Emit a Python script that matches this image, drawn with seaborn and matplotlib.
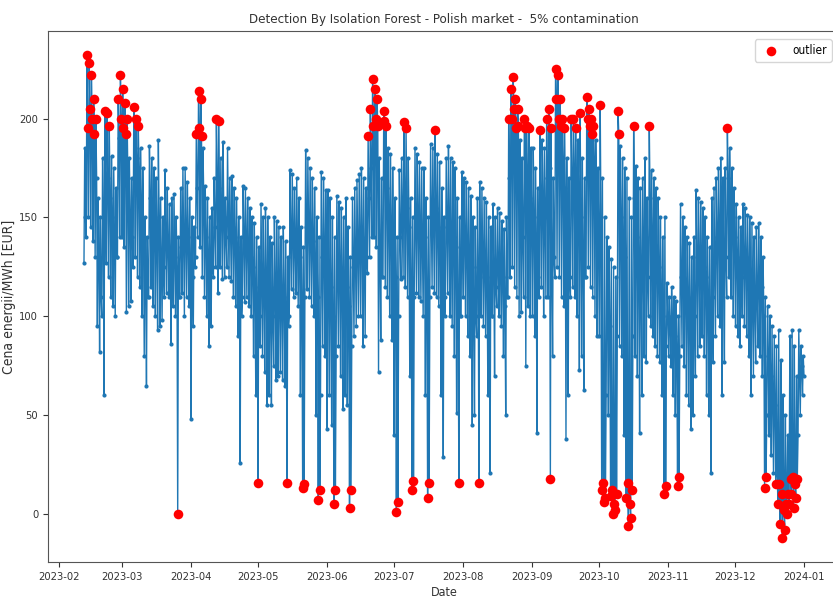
import numpy as np
import pandas as pd
import matplotlib
matplotlib.use("Agg")
import matplotlib.pyplot as plt
import seaborn as sns

# Daily readings, three per day: [low, high, mid] (EUR/MWh)
feb = [127,185,150, 140,232,195, 150,228,205, 145,222,200, 138,210,192, 130,200,170,
       95,160,130, 82,150,110, 100,180,150, 60,204,160, 127,203,170, 120,196,160,
       110,181,150, 105,175,140, 100,165,130, 130,210,190, 140,222,200]
mar = [140,215,195, 135,208,192, 102,200,170, 105,180,150, 108,170,140, 125,206,185,
       130,200,180, 120,196,175, 115,185,160, 100,175,145, 80,150,120, 65,140,110,
       110,186,160, 115,180,150, 105,175,145, 100,170,140, 93,189,150, 95,160,130,
       98,150,125, 110,174,140, 112,165,135, 110,157,130, 86,160,125, 105,162,130,
       100,150,125, 0,140,110, 110,165,135, 112,175,140, 100,175,140, 110,168,140,
       105,160,130]
apr = [48,150,120, 95,145,125, 130,192,165, 140,214,195, 135,210,191, 120,185,160,
       110,166,140, 100,160,130, 85,150,120, 95,155,125, 120,170,145, 125,200,170,
       112,199,165, 125,180,150, 119,188,150, 120,160,140, 125,185,150, 120,170,145,
       118,171,145, 110,165,140, 105,160,135, 90,150,120, 26,140,100, 110,166,140,
       107,165,138, 110,160,135, 105,155,130, 100,150,125, 80,147,115, 60,140,110]
may = [16,135,100, 85,157,120, 80,150,115, 72,155,120, 55,150,110, 60,140,105,
       55,137,100, 75,150,115, 68,148,112, 70,145,110, 72,140,108, 68,145,110,
       65,138,105, 16,130,95, 100,174,140, 114,172,140, 110,165,135, 112,170,138,
       105,160,130, 60,145,110, 13,135,15, 110,184,145, 114,180,145, 110,175,140,
       105,170,138, 100,165,130, 50,150,110, 7,140,12, 60,173,130, 85,170,135,
       80,164,130]
jun = [43,164,120, 60,160,115, 45,150,100, 5,140,12, 80,161,125, 85,158,125,
       70,155,120, 53,150,110, 60,160,115, 55,145,105, 3,130,12, 85,160,125,
       90,165,130, 95,169,135, 100,172,138, 100,175,140, 85,170,130, 90,165,130,
       122,191,160, 130,205,175, 140,220,196, 140,215,200, 135,210,196, 72,180,130,
       88,170,120, 120,204,199, 115,196,165, 110,185,150, 100,182,145, 88,175,135]
jul = [40,160,120, 1,140,6, 100,174,140, 119,180,150, 120,198,160, 115,195,155,
       110,180,145, 70,160,120, 12,150,17, 110,185,150, 112,182,150, 110,178,145,
       108,175,140, 100,175,140, 60,160,115, 8,150,16, 110,187,150, 115,185,150,
       112,194,155, 110,182,145, 105,178,140, 60,165,115, 29,150,100, 110,180,145,
       112,186,148, 100,180,140, 95,178,140, 80,175,135, 51,160,110, 16,150,100,
       100,173,135]
aug = [110,170,140, 100,168,135, 90,165,130, 80,161,125, 45,150,105, 50,145,100,
       90,160,125, 16,168,120, 100,165,130, 95,160,125, 90,158,120, 60,150,110,
       21,145,100, 100,157,125, 70,150,115, 105,155,125, 100,152,125, 95,148,120,
       80,144,105, 50,150,110, 110,200,170, 120,215,200, 125,221,205, 115,210,195,
       110,205,196, 100,189,150, 102,180,140, 110,200,195, 75,196,170, 105,195,160,
       100,185,150]
sep = [100,185,150, 90,175,140, 41,165,120, 110,194,160, 115,189,160, 100,185,150,
       110,200,170, 110,205,175, 18,195,130, 80,170,130, 120,225,210, 125,222,200,
       120,210,196, 110,200,180, 105,195,165, 38,180,130, 60,170,120, 110,200,170,
       115,200,175, 110,195,165, 100,189,160, 73,203,150, 80,180,130, 63,170,120,
       120,211,200, 125,205,196, 115,200,192, 110,196,180, 100,189,160, 90,175,140]
octo = [90,207,150, 12,170,16, 6,150,8, 60,140,100, 50,135,95, 9,129,12,
        0,125,5, 2,120,10, 90,204,192, 85,186,150, 80,180,140, 40,175,130,
        8,170,16, -6,160,5, -2,150,12, 90,196,160, 80,176,140, 70,170,130,
        41,165,120, 60,170,130, 80,180,140, 77,160,120, 100,196,160, 95,174,140,
        90,170,135, 85,165,130, 80,160,125, 77,150,110, 60,140,100, 10,150,14,
        85,117,100]
nov = [80,110,95, 75,115,100, 60,110,90, 50,108,85, 14,100,19, 80,157,120,
       85,150,120, 75,145,115, 60,140,110, 55,137,105, 43,130,95, 50,140,100,
       70,164,130, 80,160,130, 85,158,128, 90,155,125, 80,150,120, 60,140,110,
       50,135,100, 21,160,110, 77,165,130, 90,170,140, 100,175,145, 95,180,150,
       60,170,130, 77,175,130, 110,195,170, 120,185,160, 110,175,150, 100,165,140]
dec = [95,157,130, 90,150,125, 85,145,120, 100,157,130, 95,155,130, 90,151,125,
       80,150,120, 60,147,110, 70,140,105, 77,145,110, 85,147,120, 80,140,115,
       70,130,100, 13,110,19, 50,105,80, 40,100,70, 30,95,60, 21,90,55,
       15,85,20, 5,93,15, -5,78,10, -12,60,2, -8,50,5, 0,40,10,
       5,90,18, 10,93,19, 3,85,15, 8,70,18, 40,93,70, 50,85,75,
       60,80,70]

start_date = "2023-02-12"
reading_hours = [3, 11, 19]
upper_limit = 190.5
lower_limit = 20.0

prices = np.array(feb + mar + apr + may + jun + jul + aug + sep + octo + nov + dec, dtype=float)
n_days = len(prices) // 3
days = pd.date_range(start_date, periods=n_days, freq="D")
times = [d + pd.Timedelta(hours=h) for d in days for h in reading_hours]
df = pd.DataFrame({"Date": times, "price": prices})
df["outlier"] = (df["price"] > upper_limit) | (df["price"] < lower_limit)

plt.rcParams["font.family"] = ["DejaVu Sans"]
plt.rcParams["font.stretch"] = "condensed"

fig = plt.figure(figsize=(8.33, 6.04), dpi=100)
ax = fig.add_axes([0.0576, 0.0695, 0.9508, 0.879])

sns.lineplot(data=df, x="Date", y="price", ax=ax, estimator=None, color="#1f77b4",
             linewidth=1.0, marker="o", markersize=3.0, markeredgewidth=0, zorder=2)
out = df[df["outlier"]]
sns.scatterplot(data=out, x="Date", y="price", ax=ax, color="red", s=48,
                edgecolor="red", linewidth=0, label="outlier", zorder=3)

txt = "#333333"
ax.set_title("Detection By Isolation Forest - Polish market -  5% contamination",
             fontsize=9.5, color=txt, pad=6)
ax.set_xlabel("Date", fontsize=9, color=txt, labelpad=3)
ax.set_ylabel("Cena energii/MWh [EUR]", fontsize=10, color=txt, labelpad=2)
ax.tick_params(labelsize=8, colors=txt)
for s in ax.spines.values():
    s.set_color("#555555")
ax.legend(loc="upper right", fontsize=8.5, markerscale=1.0, borderaxespad=0.7)

fig.savefig("out.png", dpi=100)
